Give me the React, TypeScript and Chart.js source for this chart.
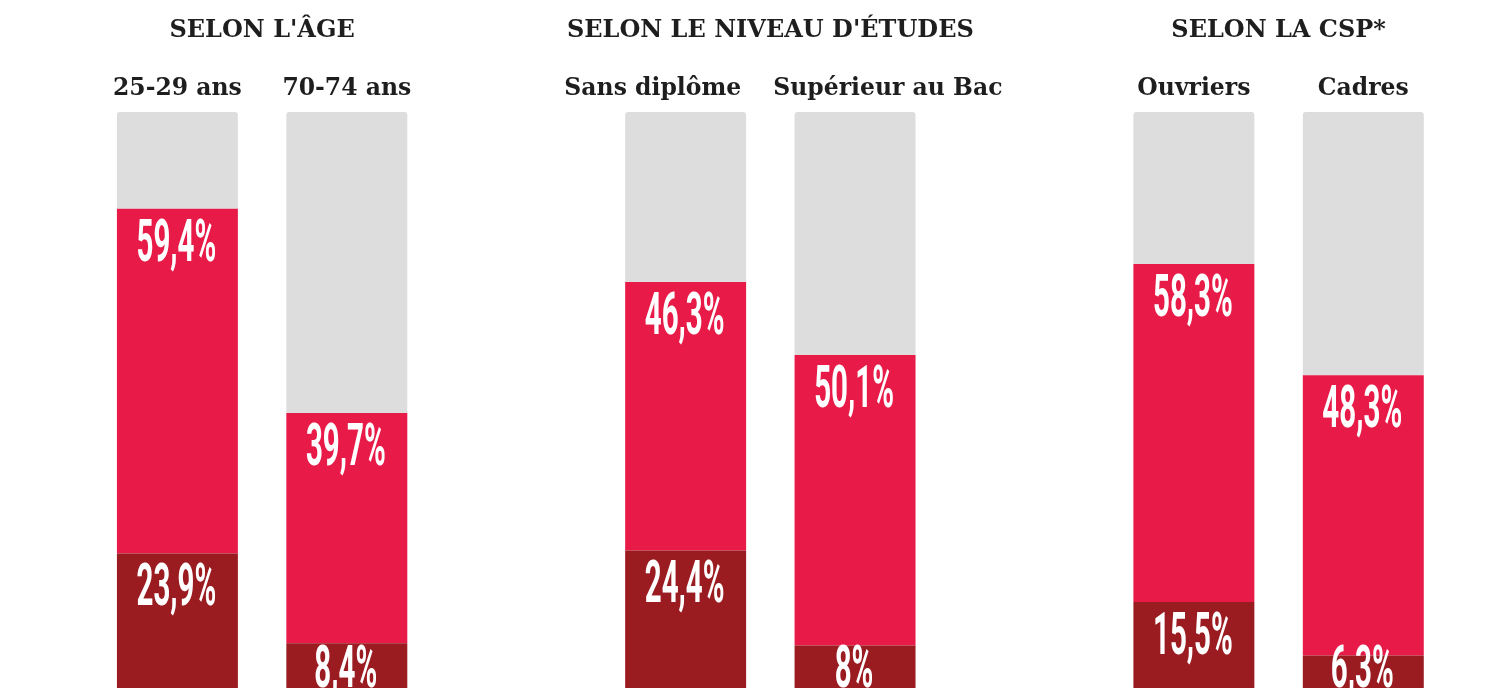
import React, { useEffect, useRef } from "react";
import { Chart, registerables } from "chart.js";

Chart.register(...registerables);

const groupTitles = ["SELON L'ÂGE", "SELON LE NIVEAU D'ÉTUDES", "SELON LA CSP*"];
const categories = ["25-29 ans", "70-74 ans", "Sans diplôme", "Supérieur au Bac", "Ouvriers", "Cadres"];
const darkValues = [23.9, 8.4, 24.4, 8, 15.5, 6.3];
const redValues = [59.4, 39.7, 46.3, 50.1, 58.3, 48.3];

const GREY = "#dddddd";
const RED = "#e81a48";
const DARK = "#9a1b20";
const TEXT = "#1e1e1e";

// 8 slots: pairs separated by an empty slot
const slotOf = (i: number) => i + Math.floor(i / 2);
const SLOTS = categories.length + groupTitles.length - 1;

function fmt(v: number) {
  return String(v).replace(".", ",") + "%";
}

const labelPlugin = {
  id: "infoLabels",
  afterDatasetsDraw(chart: any) {
    const ctx = chart.ctx as CanvasRenderingContext2D;
    const darkMeta = chart.getDatasetMeta(0);
    const redMeta = chart.getDatasetMeta(1);
    const bottom = chart.chartArea.bottom;
    ctx.save();

    // group titles
    ctx.fillStyle = TEXT;
    ctx.textAlign = "center";
    ctx.textBaseline = "alphabetic";
    ctx.font = "bold 24px 'DejaVu Serif'";
    groupTitles.forEach((t, g) => {
      const a = darkMeta.data[slotOf(g * 2)];
      const b = darkMeta.data[slotOf(g * 2 + 1)];
      const cx = (a.x + b.x) / 2;
      ctx.fillText(t, cx, 37);
    });

    // category labels
    ctx.font = "bold 23.5px 'DejaVu Serif'";
    for (let g = 0; g < groupTitles.length; g++) {
      const i1 = g * 2;
      const i2 = g * 2 + 1;
      const x1 = darkMeta.data[slotOf(i1)].x;
      const x2 = darkMeta.data[slotOf(i2)].x;
      const w1 = ctx.measureText(categories[i1]).width;
      const w2 = ctx.measureText(categories[i2]).width;
      let c1 = x1;
      let c2 = x2;
      const gap = c2 - w2 / 2 - (c1 + w1 / 2);
      const minGap = 32;
      if (gap < minGap) {
        const d = (minGap - gap) / 2;
        c1 -= d;
        c2 += d;
      }
      ctx.fillText(categories[i1], c1, 95);
      ctx.fillText(categories[i2], c2, 95);
    }

    // value labels
    ctx.fillStyle = "#ffffff";
    const cap = 42;
    const drawVal = (txt: string, x: number, top: number) => {
      ctx.save();
      ctx.translate(x, top + cap);
      ctx.scale(0.5, 1);
      ctx.font = "bold 59px Roboto";
      ctx.textAlign = "center";
      ctx.textBaseline = "alphabetic";
      ctx.fillText(txt, 0, 0);
      ctx.restore();
    };
    categories.forEach((_, i) => {
      const s = slotOf(i);
      const r = redMeta.data[s];
      const d = darkMeta.data[s];
      drawVal(fmt(redValues[i]), r.x - 1, r.y + 10);
      drawVal(fmt(darkValues[i]), d.x - 1, Math.min(d.y + 10, bottom - 47));
    });
    ctx.restore();
  },
};

export default function App() {
  const ref = useRef<HTMLCanvasElement | null>(null);
  useEffect(() => {
    if (!ref.current) return;
    const labels: string[] = new Array(SLOTS).fill("");
    const dark: (number | null)[] = new Array(SLOTS).fill(null);
    const red: (number | null)[] = new Array(SLOTS).fill(null);
    const grey: (number | null)[] = new Array(SLOTS).fill(null);
    categories.forEach((c, i) => {
      const s = slotOf(i);
      labels[s] = c;
      dark[s] = darkValues[i];
      red[s] = redValues[i];
      grey[s] = 100 - darkValues[i] - redValues[i];
    });
    const common = { barPercentage: 0.714, categoryPercentage: 1, borderWidth: 0 };
    const chart = new Chart(ref.current, {
      type: "bar",
      data: {
        labels,
        datasets: [
          { ...common, label: "dark", data: dark, backgroundColor: DARK },
          { ...common, label: "red", data: red, backgroundColor: RED },
          {
            ...common,
            label: "grey",
            data: grey,
            backgroundColor: GREY,
            borderRadius: { topLeft: 3, topRight: 3, bottomLeft: 0, bottomRight: 0 },
            borderSkipped: "bottom",
          },
        ],
      },
      options: {
        animation: false,
        responsive: false,
        devicePixelRatio: 1,
        layout: { padding: { top: 112, bottom: 0, left: 92.7, right: 61 } },
        plugins: { legend: { display: false }, tooltip: { enabled: false } },
        scales: {
          x: { display: false, stacked: true, grid: { display: false } },
          y: { display: false, stacked: true, min: 0, max: 100, grid: { display: false } },
        },
      },
      plugins: [labelPlugin],
    });
    return () => chart.destroy();
  }, []);
  return (
    <div
      style={{
        position: "fixed",
        left: 0,
        top: 0,
        width: 1509,
        height: 688,
        overflow: "hidden",
        background: "#ffffff",
      }}
    >
      <canvas ref={ref} width={1509} height={692} style={{ display: "block", width: 1509, height: 692 }} />
    </div>
  );
}
